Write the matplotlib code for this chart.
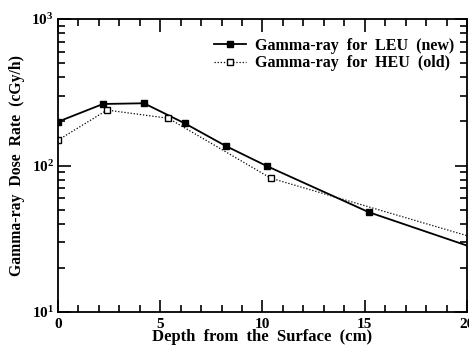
import numpy as np
import matplotlib
matplotlib.use("Agg")
import matplotlib.pyplot as plt
from matplotlib.ticker import LogLocator, MultipleLocator, NullFormatter

# dose rate vs depth; last point of each series is the curve end (no marker)
depth_leu = [0.0, 2.2, 4.2, 6.2, 8.2, 10.2, 15.2, 20.0]
dose_leu = [199, 263, 266, 194, 136, 99.3, 48.0, 28.4]

depth_heu = [0.0, 2.4, 5.4, 10.4, 20.0]
dose_heu = [149, 239, 210, 82, 33.2]

plt.rcParams['font.family'] = ['Liberation Serif', 'DejaVu Serif']
plt.rcParams['font.weight'] = 'bold'
plt.rcParams['mathtext.fontset'] = 'custom'
plt.rcParams['mathtext.rm'] = 'Liberation Serif:bold'
plt.rcParams['mathtext.default'] = 'rm'

fig = plt.figure(figsize=(4.69, 3.47), dpi=100)
ax = fig.add_axes([0.1237, 0.1009, 0.872, 0.8443])

ax.plot(depth_leu, dose_leu, color='black', lw=1.3, marker='s', ms=5,
        mfc='black', mec='black', markevery=list(range(len(depth_leu) - 1)),
        label='Gamma-ray  for  LEU  (new)')
ax.plot(depth_heu, dose_heu, color='black', lw=0.9, ls=(0, (1, 1.5)),
        marker='s', ms=5, mfc='white', mec='black', mew=1.0,
        markevery=list(range(len(depth_heu) - 1)),
        label='Gamma-ray  for  HEU  (old)')

ax.set_yscale('log')
ax.set_xlim(0, 20)
ax.set_ylim(10, 1000)

ax.xaxis.set_major_locator(MultipleLocator(5))
ax.xaxis.set_minor_locator(MultipleLocator(1))
ax.yaxis.set_major_locator(LogLocator(base=10, numticks=5))
ax.yaxis.set_minor_locator(LogLocator(base=10, subs=np.arange(2, 10), numticks=20))
ax.yaxis.set_minor_formatter(NullFormatter())

ax.tick_params(which='both', direction='in', top=True, right=True,
               labelsize=11, width=1.2)
ax.tick_params(which='major', length=9)
ax.tick_params(which='minor', length=5)
ax.tick_params(axis='x', pad=4)
ax.tick_params(axis='y', pad=3)
for s in ax.spines.values():
    s.set_linewidth(1.3)

ax.set_xlabel('Depth  from  the  Surface  (cm)', fontsize=12, fontweight='bold', labelpad=-1)
ax.set_ylabel('Gamma-ray  Dose  Rate  (cGy/h)', fontsize=11.3, fontweight='bold', labelpad=5)

leg = ax.legend(loc='upper right', bbox_to_anchor=(0.997, 0.975), frameon=False,
                handlelength=2.0, handletextpad=0.6, labelspacing=0.1,
                borderaxespad=0.3, prop={'weight': 'bold', 'size': 11.5})

fig.savefig('out.png', dpi=100)
